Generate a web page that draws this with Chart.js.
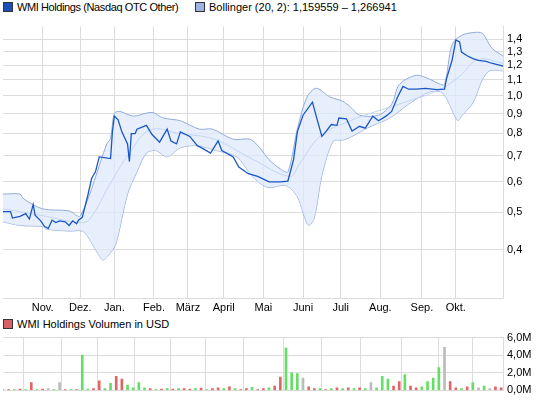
<!DOCTYPE html>
<html><head><meta charset="utf-8">
<script src="https://cdn.jsdelivr.net/npm/chart.js@4"></script>
<style>
body{margin:0;width:545px;height:401px;position:relative;background:#fff;font-family:"Liberation Sans",Arial,sans-serif;font-size:11px;color:#000;overflow:hidden}
.lg{position:absolute;display:flex;align-items:center;white-space:nowrap}
.sq{display:inline-block;width:8px;height:8px;border:1px solid #333;margin-right:4px}
#c1w{position:absolute;left:0;top:16px;width:545px;height:300px}
#c2w{position:absolute;left:0;top:327px;width:545px;height:74px}
</style></head><body>
<div class="lg" style="left:3px;top:1px;letter-spacing:-0.4px"><span class="sq" style="background:#1a4fb8"></span>WMI Holdings (Nasdaq OTC Other)</div>
<div class="lg" style="left:195px;top:1px"><span class="sq" style="background:#9db3e0"></span>Bollinger (20, 2): 1,159559 – 1,266941</div>
<div class="lg" style="left:3px;top:318px"><span class="sq" style="background:#d96060"></span>WMI Holdings Volumen in USD</div>
<div id="c1w"><canvas id="c1"></canvas></div>
<div id="c2w"><canvas id="c2"></canvas></div>
<script>
const monthDays=[21,41,59,80,98,117,138,159,179,200,222,240];
const monthLabels=["Nov.","Dez.","Jan.","Feb.","März","April","Mai","Juni","Juli","Aug.","Sep.","Okt."];
const priceTicks=[0.4,0.5,0.6,0.7,0.8,0.9,1.0,1.1,1.2,1.3,1.4];
const priceDays=[0,4,5,9,12,14,16,17,20,22,24,26,28,30,33,35,37,39,40,42,45,47,49,51,57,58,59,61,63,66,67,68,70,71,76,79,83,87,89,92,94,99,103,106,110,114,116,122,125,130,135,141,147,151,154,156,159,164,166,169,171,174,177,178,182,185,189,192,196,199,203,206,209,212,215,219,224,230,234,235,238,240,242,243,246,249,252,256,259,263,265];
const priceVals=[.502,.502,.483,.488,.496,.480,.524,.491,.475,.459,.454,.477,.470,.475,.472,.462,.475,.467,.477,.485,.554,.612,.636,.695,.688,.807,.886,.867,.807,.751,.676,.798,.798,.820,.839,.794,.759,.820,.764,.751,.807,.785,.743,.730,.711,.764,.722,.695,.654,.629,.619,.599,.599,.602,.684,.807,.891,.963,.886,.785,.807,.843,.839,.876,.872,.811,.834,.825,.886,.862,.886,.911,.990,1.058,1.040,1.040,1.045,1.038,1.040,1.105,1.235,1.394,1.379,1.298,1.269,1.248,1.235,1.228,1.214,1.201,1.194];
const upperDays=[0,9,11,21,35,41,55,57,59,62,69,79,85,94,104,111,122,131,136,141,147,151,156,161,166,173,180,184,189,199,206,210,219,226,231,234,238,243,249,254,259,265];
const upperVals=[.557,.557,.541,.510,.504,.489,.751,.776,.901,.911,.886,.906,.876,.862,.820,.820,.772,.772,.734,.684,.647,.636,.820,.990,1.046,.995,.968,.937,.891,.891,.952,1.069,1.130,1.105,1.075,1.069,1.356,1.433,1.457,1.451,1.33,1.267];
const lowerDays=[0,9,21,23,35,42,45,50,53,57,60,66,71,76,81,87,94,103,113,124,131,136,141,150,156,159,162,165,169,175,180,184,194,205,215,226,233,241,243,249,254,258,265];
const lowerVals=[.472,.462,.459,.452,.447,.447,.432,.393,.376,.393,.416,.557,.636,.711,.722,.695,.734,.743,.722,.695,.629,.595,.579,.586,.548,.499,.462,.483,.622,.764,.768,.781,.830,.876,.952,1.023,1.017,.862,.886,.958,1.10,1.162,1.160];
const midDays=[0,20,41,46,57,67,78,94,112,131,152,157,168,184,210,231,242,252,265];
const midVals=[.51,.491,.470,.480,.595,.711,.816,.798,.772,.691,.619,.665,.785,.862,.952,1.035,1.124,1.242,1.213];
const volVals=[.1,.1,.1,.15,.1,.9,.1,.15,.2,.1, .9,.1,.1,.1,4.0,.15,.2,1.1,.2,.8, 1.6,1.3,.6,.3,.9,.3,.2,.1,.15,.2, .15,.2,.2,.15,.2,.25,.1,.2,.3,.2, .4,.2,.1,.2,.35,.1,.2,.3,.5,1.5, 4.8,2.0,1.9,1.4,.4,.2,.2,.1,.2,.3, .2,.3,.2,.3,.2,.9,.3,1.6,1.3,.5, 1.0,1.8,.5,.3,.4,1.0,1.4,2.6,4.9,1.0, .3,.2,.4,.9,.3,.5,.2,.4,.3];
const volDir="grgrgrgrng"+"nrgrggrrgg"+"rrggggrgrg"+"rgrrgrgrrg"+"rgrrgrrgrr"+"gggnrrgrgr"+"grgrgngggr"+"rgrrggggnr"+"rgrgngnrr";
const volTicks=[0,2,4,6];
const zip=(d,v)=>d.map((x,i)=>({x:x,y:v[i]}));
const grid='#dcdcdc';
Chart.defaults.font.family='"Liberation Sans", Arial, sans-serif';
Chart.defaults.font.size=11;
Chart.defaults.color='#000';
const xCommon={type:'linear',min:0,max:265,
  afterBuildTicks:a=>{a.ticks=monthDays.map(v=>({value:v}));},
  grid:{color:grid,drawTicks:false},border:{color:grid},
};
new Chart(document.getElementById('c1'),{type:'line',
 data:{datasets:[
  {data:zip(priceDays,priceVals),borderColor:'#1a56c4',borderWidth:1.3,pointRadius:0,fill:false,tension:0},
  {data:zip(midDays,midVals),borderColor:'#c3d4f3',borderWidth:1,pointRadius:0,fill:false,tension:0.4},
  {data:zip(upperDays,upperVals),borderColor:'#93abdd',borderWidth:1,pointRadius:0,fill:'+1',backgroundColor:'rgba(222,233,250,0.75)',tension:0.3},
  {data:zip(lowerDays,lowerVals),borderColor:'#93abdd',borderWidth:1,pointRadius:0,fill:false,tension:0.3}
 ]},
 options:{responsive:true,maintainAspectRatio:false,animation:false,
  layout:{padding:{left:3,top:0,right:0,bottom:0}},
  plugins:{legend:{display:false},tooltip:{enabled:false}},
  scales:{
   x:{...xCommon,ticks:{padding:3,maxRotation:0,autoSkip:false,callback:v=>{const i=monthDays.indexOf(v);return i>=0?monthLabels[i]:'';}},afterFit:s=>{s.height=18;}},
   y:{type:'logarithmic',position:'right',min:0.318,max:1.51,
    afterBuildTicks:a=>{a.ticks=priceTicks.map(v=>({value:v}));},
    ticks:{padding:4,callback:v=>v.toFixed(1).replace('.',',')},
    grid:{color:grid,drawTicks:false},border:{color:grid},afterFit:s=>{s.width=42;}}
  }}});
new Chart(document.getElementById('c2'),{type:'bar',
 data:{datasets:[{data:volVals.map((v,i)=>({x:i*3,y:v})),
  backgroundColor:volVals.map((v,i)=>volDir[i]==='g'?'#66dd66':volDir[i]==='r'?'#e06666':'#bbbbbb'),
  barThickness:2,borderWidth:0}]},
 options:{responsive:true,maintainAspectRatio:false,animation:false,
  layout:{padding:{left:3,top:6,right:0,bottom:9}},
  plugins:{legend:{display:false},tooltip:{enabled:false}},
  scales:{
   x:{...xCommon,offset:false,ticks:{display:false},afterFit:s=>{s.height=0;}},
   y:{position:'right',min:0,max:6,afterBuildTicks:a=>{a.ticks=volTicks.map(v=>({value:v}));},
    ticks:{padding:4,callback:v=>v.toFixed(1).replace('.',',')+'M'},
    grid:{color:grid,drawTicks:false},border:{color:grid},afterFit:s=>{s.width=42;}}
  }}});
</script></body></html>
